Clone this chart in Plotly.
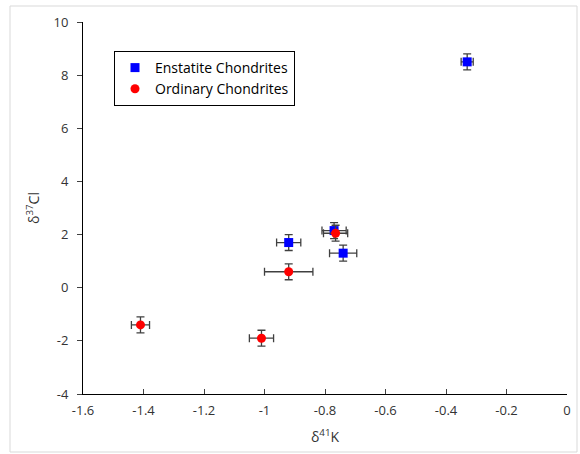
import plotly.graph_objects as go

# Enstatite chondrites
en_x = [-0.33, -0.92, -0.77, -0.74]
en_y = [8.5, 1.7, 2.15, 1.3]
en_xerr = [0.02, 0.04, 0.04, 0.045]
en_yerr = [0.3, 0.3, 0.3, 0.3]

# Ordinary chondrites
oc_x = [-0.765, -0.92, -1.41, -1.01]
oc_y = [2.05, 0.6, -1.4, -1.9]
oc_xerr = [0.04, 0.08, 0.03, 0.04]
oc_yerr = [0.3, 0.3, 0.3, 0.3]

x_ticks = [-1.6, -1.4, -1.2, -1, -0.8, -0.6, -0.4, -0.2, 0]
y_ticks = [-4, -2, 0, 2, 4, 6, 8, 10]

W, H = 580, 454
L, R, T, B = 83, 13, 22, 60
pw, ph = W - L - R, H - T - B

err_style = dict(color="#404040", thickness=1.3, width=4)

fig = go.Figure()
fig.add_trace(go.Scatter(
    x=en_x, y=en_y, mode="markers", name="Enstatite Chondrites",
    marker=dict(symbol="square", size=9, color="#0000FF"),
    error_x=dict(type="data", array=en_xerr, **err_style),
    error_y=dict(type="data", array=en_yerr, **err_style),
))
fig.add_trace(go.Scatter(
    x=oc_x, y=oc_y, mode="markers", name="Ordinary Chondrites",
    marker=dict(symbol="circle", size=9, color="#FF0000"),
    error_x=dict(type="data", array=oc_xerr, **err_style),
    error_y=dict(type="data", array=oc_yerr, **err_style),
))

font = dict(family="Open Sans, Liberation Sans, sans-serif", size=13, color="#333333")

fig.update_layout(
    width=W, height=H,
    margin=dict(l=L, r=R, t=T, b=B),
    paper_bgcolor="white", plot_bgcolor="white",
    font=font,
    showlegend=True,
    legend=dict(
        x=(114 - L) / pw, y=1 - (51 - T) / ph, xanchor="left", yanchor="top",
        bordercolor="black", borderwidth=1, bgcolor="white",
        font=dict(family="Open Sans, Liberation Sans, sans-serif", size=14, color="black"),
        itemsizing="trace", tracegroupgap=6,
    ),
    xaxis=dict(
        range=[-1.6, 0], tickvals=x_ticks, ticktext=[f"{v:g}" for v in x_ticks],
        showgrid=False, zeroline=False, showline=True, linecolor="black", linewidth=1,
        ticks="inside", ticklen=5, tickcolor="#404040", automargin=False,
        ticklabelstandoff=4,
        title=dict(text="δ<sup>41</sup>K", standoff=14, font=dict(size=14)),
    ),
    yaxis=dict(
        range=[-4, 10], tickvals=y_ticks, ticktext=[f"{v:g}" for v in y_ticks],
        showgrid=False, zeroline=False, showline=True, linecolor="black", linewidth=1,
        ticks="outside", ticklen=5, tickcolor="#404040", automargin=False,
        ticklabelstandoff=6,
        title=dict(text="δ<sup>37</sup>Cl", standoff=10, font=dict(size=14)),
    ),
    shapes=[dict(
        type="rect", xref="paper", yref="paper", layer="below",
        x0=(10 - L) / pw, x1=(577 - L) / pw,
        y0=1 - (452 - T) / ph, y1=1 - (6 - T) / ph,
        line=dict(color="#D9D9D9", width=1), fillcolor="rgba(0,0,0,0)",
    )],
)

fig.write_html("out.html", config={"displayModeBar": False},
               post_script="document.body.style.margin='0';")
